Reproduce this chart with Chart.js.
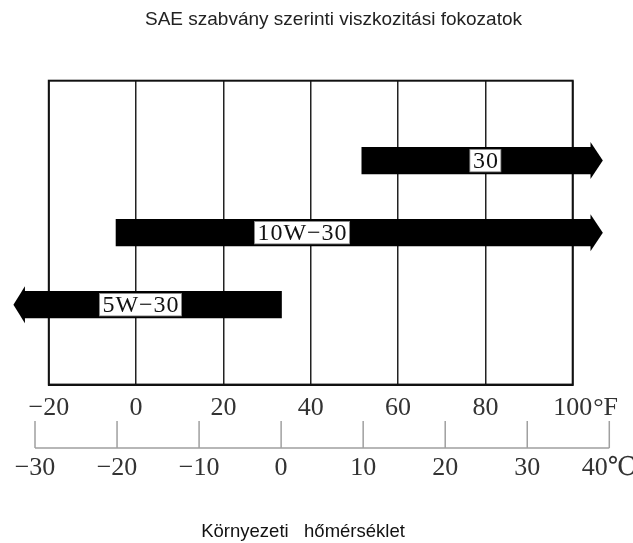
<!DOCTYPE html>
<html>
<head>
<meta charset="utf-8">
<script src="https://cdn.jsdelivr.net/npm/chart.js@4"></script>
<style>
  html, body { margin: 0; padding: 0; background: #ffffff; }
  #wrap { width: 633px; height: 543px; position: relative; }
</style>
</head>
<body>
<div id="wrap"><canvas id="c"></canvas></div>
<script>
// ---- data ----
const grades = ['30', '10W-30', '5W-30'];
const rangeStartF = [51.7, -4.6, -25.7];
const rangeEndF = [104.3, 104.3, 33.3];
const arrowTipF = [106.9, 106.9, -28.1];
const arrowDir = ['right', 'right', 'left'];
const gradeLabelAtF = [80, 38, 1];
const fahrenheitTicks = [-20, 0, 20, 40, 60, 80, 100];
const celsiusTicks = [-30, -20, -10, 0, 10, 20, 30, 40];
const chartTitle = 'SAE szabvány szerinti viszkozitási fokozatok';
const axisTitle = 'Környezeti   hőmérséklet   ';

const SERIF = '"Liberation Serif", "DejaVu Serif", serif';
const SANS = '"Liberation Sans", Arial, sans-serif';
const minus = v => (v < 0 ? '\u2212' + Math.abs(v) : String(v));

const rows = grades.map((g, i) => ({ x: [rangeStartF[i], rangeEndF[i]], y: i + 1 }));

const decorPlugin = {
  id: 'decor',
  beforeDatasetsDraw(chart) {
    const { ctx, chartArea: a } = chart;
    ctx.save();
    ctx.strokeStyle = '#111';
    ctx.lineWidth = 2;
    ctx.strokeRect(a.left, a.top, a.right - a.left, a.bottom - a.top);
    ctx.restore();
  },
  afterDatasetsDraw(chart) {
    const { ctx } = chart;
    const xs = chart.scales.x;
    const meta = chart.getDatasetMeta(0);
    ctx.save();
    meta.data.forEach((el, i) => {
      const p = el.getProps(['x', 'y', 'base', 'height'], true);
      const left = Math.min(p.x, p.base), right = Math.max(p.x, p.base);
      const half = 18.5;
      const tip = xs.getPixelForValue(arrowTipF[i]);
      ctx.fillStyle = '#000';
      ctx.beginPath();
      if (arrowDir[i] === 'right') {
        ctx.moveTo(right - 1, p.y - half);
        ctx.lineTo(tip, p.y);
        ctx.lineTo(right - 1, p.y + half);
      } else {
        ctx.moveTo(left + 1, p.y - half);
        ctx.lineTo(tip, p.y);
        ctx.lineTo(left + 1, p.y + half);
      }
      ctx.closePath();
      ctx.fill();
      // grade label box
      const txt = grades[i].replace('-', '\u2212');
      ctx.font = '24px ' + SERIF;
      ctx.letterSpacing = '1px';
      const w = ctx.measureText(txt).width + 5;
      const h = p.height - 4;
      const cx = xs.getPixelForValue(gradeLabelAtF[i]);
      ctx.fillStyle = '#fff';
      ctx.fillRect(cx - w / 2, p.y - h / 2, w, h);
      ctx.strokeStyle = '#888';
      ctx.lineWidth = 0.8;
      ctx.strokeRect(cx - w / 2, p.y - h / 2, w, h);
      ctx.fillStyle = '#111';
      ctx.textAlign = 'center';
      ctx.textBaseline = 'middle';
      ctx.fillText(txt, cx + 0.5, p.y + 1);
      ctx.letterSpacing = '0px';
    });
    ctx.restore();
  },
  afterDraw(chart) {
    const { ctx } = chart;
    const cs = chart.scales.xC;
    const xs = chart.scales.x;
    const lineY = 448, tickTop = 421;
    ctx.save();
    ctx.strokeStyle = '#a0a0a0';
    ctx.lineWidth = 1.5;
    ctx.beginPath();
    const x0 = cs.getPixelForValue(celsiusTicks[0]);
    const x1 = cs.getPixelForValue(celsiusTicks[celsiusTicks.length - 1]);
    ctx.moveTo(x0, lineY);
    ctx.lineTo(x1, lineY);
    celsiusTicks.forEach(v => {
      const px = cs.getPixelForValue(v);
      ctx.moveTo(px, lineY);
      ctx.lineTo(px, tickTop);
    });
    ctx.stroke();
    ctx.fillStyle = '#333';
    ctx.font = '26px ' + SERIF;
    ctx.textAlign = 'center';
    ctx.textBaseline = 'middle';
    celsiusTicks.forEach((v, i) => {
      const lbl = minus(v) + (i === celsiusTicks.length - 1 ? '\u2103' : '');
      ctx.fillText(lbl, cs.getPixelForValue(v), 468);
    });
    // degree F suffix after the last Fahrenheit label
    const last = fahrenheitTicks[fahrenheitTicks.length - 1];
    const lx = xs.getPixelForValue(last);
    const lw = ctx.measureText(String(last)).width;
    ctx.textAlign = 'left';
    ctx.fillText('\u00B0F', lx + lw / 2 + 1, 408);
    ctx.restore();
  }
};

new Chart(document.getElementById('c'), {
  type: 'bar',
  data: {
    datasets: [{
      data: rows,
      backgroundColor: '#000',
      borderWidth: 0,
      barThickness: 26.5,
      clip: false
    }]
  },
  options: {
    indexAxis: 'y',
    responsive: true,
    maintainAspectRatio: false,
    animation: false,
    layout: { padding: { left: 48.8, right: 14.8, top: 0, bottom: 0 } },
    plugins: {
      legend: { display: false },
      tooltip: { enabled: false },
      title: {
        display: true,
        text: chartTitle,
        color: '#222',
        font: { family: SANS, size: 19, weight: 'normal' },
        padding: { top: 8, bottom: 49.9 }
      }
    },
    scales: {
      x: {
        type: 'linear',
        position: 'bottom',
        min: fahrenheitTicks[0],
        max: fahrenheitTicks[fahrenheitTicks.length - 1],
        afterBuildTicks: s => { s.ticks = fahrenheitTicks.map(v => ({ value: v })); },
        grid: { color: '#222', lineWidth: 1.5, drawTicks: false },
        border: { display: true, color: '#111', width: 2 },
        ticks: {
          padding: 8,
          color: '#333',
          font: { family: SERIF, size: 26 },
          callback: v => minus(v),
          maxRotation: 0,
          autoSkip: false
        },
        title: {
          display: true,
          text: axisTitle,
          color: '#111',
          font: { family: SANS, size: 18.5 },
          padding: { top: 89, bottom: 0 }
        }
      },
      xC: {
        type: 'linear',
        axis: 'x',
        position: 'bottom',
        display: false,
        min: -28.318,
        max: 35.54
      },
      y: {
        type: 'linear',
        display: false,
        reverse: true,
        min: 0.125,
        max: 3.875
      },
      yR: {
        type: 'linear',
        position: 'right',
        display: true,
        grid: { display: false },
        border: { display: false },
        ticks: { display: false },
        afterFit: s => { s.width = 45.5; }
      }
    }
  },
  plugins: [decorPlugin]
});
</script>
</body>
</html>
